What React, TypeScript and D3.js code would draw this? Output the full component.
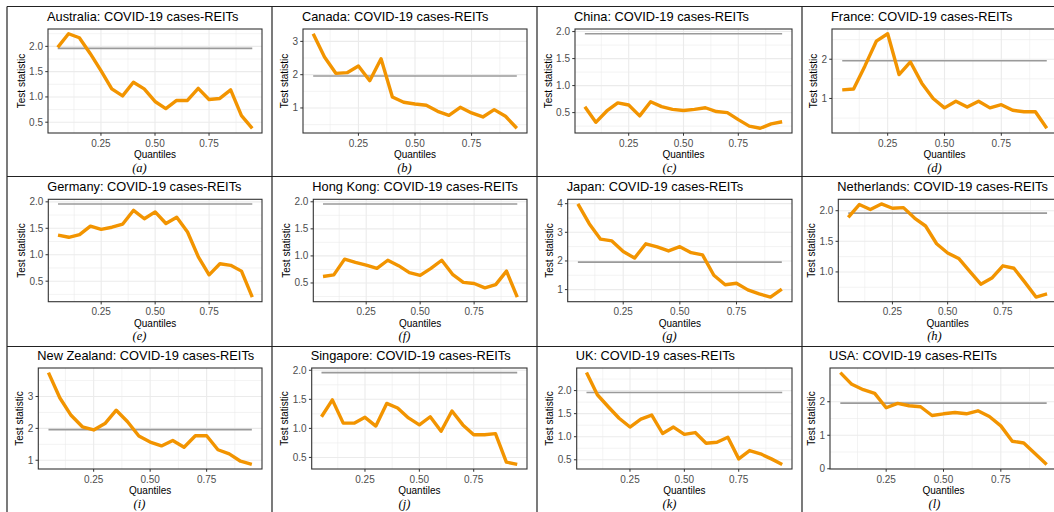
import React from 'react';
import * as d3 from 'd3';

// ---------- DATA ----------
const quantiles = [0.05, 0.10, 0.15, 0.20, 0.25, 0.30, 0.35, 0.40, 0.45, 0.50, 0.55, 0.60, 0.65, 0.70, 0.75, 0.80, 0.85, 0.90, 0.95];
const critical = 1.96;

const countries = ['Australia', 'Canada', 'China', 'France', 'Germany', 'Hong Kong', 'Japan', 'Netherlands', 'New Zealand', 'Singapore', 'UK', 'USA'];
const captions = ['(a)', '(b)', '(c)', '(d)', '(e)', '(f)', '(g)', '(h)', '(i)', '(j)', '(k)', '(l)'];

const australia = [1.98, 2.25, 2.17, 1.86, 1.52, 1.16, 1.02, 1.29, 1.16, 0.91, 0.77, 0.93, 0.93, 1.17, 0.95, 0.97, 1.14, 0.63, 0.38];
const canada = [3.23, 2.53, 2.04, 2.06, 2.26, 1.82, 2.48, 1.33, 1.17, 1.12, 1.08, 0.90, 0.78, 1.02, 0.85, 0.73, 0.95, 0.75, 0.39];
const china = [0.61, 0.32, 0.53, 0.68, 0.64, 0.44, 0.70, 0.61, 0.56, 0.54, 0.56, 0.59, 0.52, 0.50, 0.37, 0.25, 0.21, 0.29, 0.33];
const france = [1.22, 1.24, 1.83, 2.46, 2.65, 1.61, 1.93, 1.39, 1.00, 0.76, 0.93, 0.78, 0.93, 0.76, 0.84, 0.70, 0.66, 0.66, 0.24];
const germany = [1.37, 1.33, 1.38, 1.54, 1.48, 1.52, 1.58, 1.84, 1.68, 1.81, 1.59, 1.71, 1.43, 0.96, 0.62, 0.83, 0.80, 0.69, 0.20];
const hongKong = [0.62, 0.65, 0.94, 0.88, 0.83, 0.77, 0.92, 0.82, 0.69, 0.64, 0.77, 0.92, 0.66, 0.51, 0.49, 0.41, 0.47, 0.72, 0.24];
const japan = [3.99, 3.30, 2.76, 2.70, 2.33, 2.10, 2.60, 2.49, 2.35, 2.50, 2.29, 2.21, 1.50, 1.17, 1.22, 0.99, 0.85, 0.74, 1.02];
const netherlands = [1.89, 2.10, 2.02, 2.11, 2.04, 2.05, 1.88, 1.75, 1.46, 1.31, 1.22, 1.01, 0.80, 0.90, 1.10, 1.06, 0.83, 0.59, 0.64];
const newZealand = [3.75, 2.96, 2.41, 2.05, 1.95, 2.15, 2.57, 2.21, 1.76, 1.57, 1.45, 1.62, 1.41, 1.77, 1.77, 1.33, 1.20, 0.97, 0.87];
const singapore = [1.20, 1.49, 1.09, 1.09, 1.19, 1.04, 1.43, 1.35, 1.18, 1.06, 1.20, 0.95, 1.30, 1.06, 0.89, 0.89, 0.91, 0.42, 0.38];
const uk = [2.39, 1.91, 1.65, 1.40, 1.21, 1.38, 1.47, 1.07, 1.21, 1.05, 1.09, 0.86, 0.88, 0.99, 0.52, 0.70, 0.63, 0.52, 0.40];
const usa = [2.87, 2.52, 2.36, 2.25, 1.82, 1.95, 1.88, 1.85, 1.59, 1.64, 1.68, 1.64, 1.73, 1.56, 1.28, 0.82, 0.77, 0.45, 0.13];

const series = [australia, canada, china, france, germany, hongKong, japan, netherlands, newZealand, singapore, uk, usa];

const xTicks = [0.25, 0.50, 0.75];
const xTickLabels = ['0.25', '0.50', '0.75'];

const yTicksHalf = [0.5, 1.0, 1.5, 2.0];
const yLabelsHalf = ['0.5', '1.0', '1.5', '2.0'];
const yTicks123 = [1, 2, 3];
const yTicks12 = [1, 2];
const yTicks1234 = [1, 2, 3, 4];
const yTicks012 = [0, 1, 2];

const yTicks = [yTicksHalf, yTicks123, yTicksHalf, yTicks12, yTicksHalf, yTicksHalf, yTicks1234, yTicksHalf, yTicks123, yTicksHalf, yTicksHalf, yTicks012];
const yTickLabels = [yLabelsHalf, ['1', '2', '3'], yLabelsHalf, ['1', '2'], yLabelsHalf, yLabelsHalf, ['1', '2', '3', '4'], yLabelsHalf, ['1', '2', '3'], yLabelsHalf, yLabelsHalf, ['0', '1', '2']];

// ---------- LAYOUT ----------
const W = 1054;
const H = 512;
const colX = [7, 272, 537, 802];
const rowY = [7, 177, 347];
const cellW = 265;
const cellH = 170;
const panelLeftOffset = [41, 31, 38, 30, 41.3, 41.3, 30.7, 36.3, 31.3, 39.7, 39.7, 28];
const panelRightInset = 10;
const rowPanelTop = [22, 22.3, 21];
const rowPanelBottom = [126, 124.7, 122];

const ORANGE = '#F29400';
const SANS = '"Liberation Sans", Arial, sans-serif';
const SERIF = '"Liberation Serif", "Times New Roman", serif';

function textWidth(s: string, size: number) {
  let w = 0;
  for (const ch of s) w += ch === '.' ? 0.278 : 0.556;
  return w * size;
}

function minorBreaks(major: number[], domain: [number, number]) {
  const step = major[1] - major[0];
  const b = [major[0] - step, ...major, major[major.length - 1] + step];
  const out: number[] = [];
  for (let k = 0; k < b.length - 1; k++) out.push((b[k] + b[k + 1]) / 2);
  return out.filter(v => v >= domain[0] && v <= domain[1]);
}

function Panel({ i }: { i: number }) {
  const col = i % 4;
  const row = Math.floor(i / 4);
  const cx = colX[col];
  const cy = rowY[row];
  const left = cx + panelLeftOffset[i];
  const right = cx + cellW - panelRightInset;
  const top = cy + rowPanelTop[row];
  const bottom = cy + rowPanelBottom[row];
  const vals = series[i];
  const [lo, hi] = d3.extent([...vals, critical]) as [number, number];
  const pad = (hi - lo) * 0.05;
  const yDom: [number, number] = [lo - pad, hi + pad];
  const y = d3.scaleLinear().domain(yDom).range([bottom, top]);
  const xDom: [number, number] = [0.005, 0.995];
  const x = d3.scaleLinear().domain(xDom).range([left, right]);

  const yt = yTicks[i].filter(v => v >= yDom[0] - 1e-9 && v <= yDom[1] + 1e-9);
  const ytl = yTickLabels[i];
  const yMinor = minorBreaks(yTicks[i], yDom);
  const xMinor = minorBreaks(xTicks, xDom);

  const line = d3.line<number>().x((_, k) => x(quantiles[k])).y(d => y(d));
  const hline = d3.line<number>().x(d => x(d)).y(() => y(critical));

  const maxLabW = Math.max(...ytl.map(s => textWidth(s, 10)));
  const ylabX = left - 5 - maxLabW - 8;
  const midY = (top + bottom) / 2;

  return (
    <g>
      <text x={left - 1} y={top - 8} fontFamily={SANS} fontSize={12.8} fill="#000">
        {countries[i]}: COVID-19 cases-REITs
      </text>
      <rect x={left} y={top} width={right - left} height={bottom - top} fill="#fff" />
      {yMinor.map((v, k) => (
        <line key={'ym' + k} x1={left} x2={right} y1={y(v)} y2={y(v)} stroke="#EBEBEB" strokeWidth={0.6} />
      ))}
      {xMinor.map((v, k) => (
        <line key={'xm' + k} x1={x(v)} x2={x(v)} y1={top} y2={bottom} stroke="#EBEBEB" strokeWidth={0.6} />
      ))}
      {yt.map((v, k) => (
        <line key={'yg' + k} x1={left} x2={right} y1={y(v)} y2={y(v)} stroke="#EBEBEB" strokeWidth={1.1} />
      ))}
      {xTicks.map((v, k) => (
        <line key={'xg' + k} x1={x(v)} x2={x(v)} y1={top} y2={bottom} stroke="#EBEBEB" strokeWidth={1.1} />
      ))}
      <path d={hline([quantiles[0], quantiles[quantiles.length - 1]]) || ''} stroke="#9A9A9A" strokeWidth={1.6} fill="none" />
      <path d={line(vals) || ''} stroke={ORANGE} strokeWidth={3.4} fill="none" strokeLinejoin="round" strokeLinecap="butt" />
      <rect x={left} y={top} width={right - left} height={bottom - top} fill="none" stroke="#333" strokeWidth={1.1} />
      {yt.map((v, k) => (
        <g key={'yt' + k}>
          <line x1={left - 2.75} x2={left} y1={y(v)} y2={y(v)} stroke="#333" strokeWidth={1} />
          <text x={left - 5} y={y(v) + 3.5} textAnchor="end" fontFamily={SANS} fontSize={10} fill="#4D4D4D">
            {ytl[yTicks[i].indexOf(v)]}
          </text>
        </g>
      ))}
      {xTicks.map((v, k) => (
        <g key={'xt' + k}>
          <line x1={x(v)} x2={x(v)} y1={bottom} y2={bottom + 2.75} stroke="#333" strokeWidth={1} />
          <text x={x(v)} y={bottom + 13.7} textAnchor="middle" fontFamily={SANS} fontSize={10} fill="#4D4D4D">
            {xTickLabels[k]}
          </text>
        </g>
      ))}
      <text x={(left + right) / 2} y={bottom + 25.3} textAnchor="middle" fontFamily={SANS} fontSize={10} fill="#000">
        Quantiles
      </text>
      <text
        transform={`translate(${ylabX + 3.6},${midY}) rotate(-90)`}
        textAnchor="middle"
        fontFamily={SANS}
        fontSize={10}
        fill="#000"
      >
        Test statistic
      </text>
      <text x={cx + cellW / 2} y={bottom + 38.5} textAnchor="middle" fontFamily={SERIF} fontStyle="italic" fontSize={12.5} fill="#000">
        {captions[i]}
      </text>
    </g>
  );
}

export default function App() {
  const vLines = [...colX, colX[3] + cellW];
  const hLines = [...rowY, rowY[2] + cellH];
  return (
    <svg width={W} height={H} viewBox={`0 0 ${W} ${H}`} style={{ position: 'absolute', left: 0, top: 0, background: '#fff' }}>
      <rect x={0} y={0} width={W} height={H} fill="#fff" />
      {series.map((_, i) => (
        <Panel key={i} i={i} />
      ))}
      {vLines.map((vx, k) => (
        <line key={'v' + k} x1={vx} x2={vx} y1={rowY[0] - 0.5} y2={hLines[3]} stroke="#222" strokeWidth={1.2} />
      ))}
      {hLines.map((hy, k) => (
        <line key={'h' + k} x1={colX[0]} x2={vLines[4]} y1={hy - 0.5} y2={hy - 0.5} stroke="#222" strokeWidth={1.2} />
      ))}
    </svg>
  );
}
